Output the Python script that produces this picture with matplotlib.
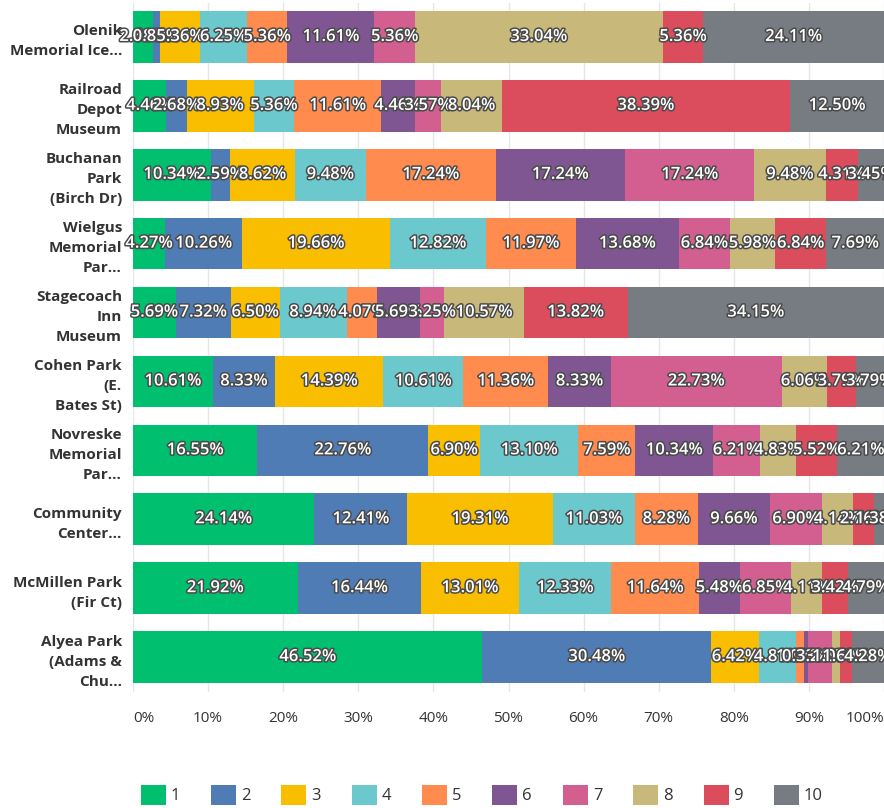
import numpy as np
import matplotlib
matplotlib.use("Agg")
import matplotlib.pyplot as plt
import matplotlib.patheffects as pe
from matplotlib.patches import Patch

plt.rcParams['font.family'] = ['Open Sans', 'DejaVu Sans']

# Datos
places = [
    "Olenik\nMemorial Ice...",
    "Railroad\nDepot\nMuseum",
    "Buchanan\nPark\n(Birch Dr)",
    "Wielgus\nMemorial\nPar...",
    "Stagecoach\nInn\nMuseum",
    "Cohen Park\n(E.\nBates St)",
    "Novreske\nMemorial\nPar...",
    "Community\nCenter...",
    "McMillen Park\n(Fir Ct)",
    "Alyea Park\n(Adams &\nChu...",
]
series = ["1", "2", "3", "4", "5", "6", "7", "8", "9", "10"]

# porcentaje por lugar, columnas 1..10
pct = np.array([
    [2.68, 0.89, 5.36, 6.25, 5.36, 11.61, 5.36, 33.04, 5.36, 24.11],
    [4.46, 2.68, 8.93, 5.36, 11.61, 4.46, 3.57, 8.04, 38.39, 12.50],
    [10.34, 2.59, 8.62, 9.48, 17.24, 17.24, 17.24, 9.48, 4.31, 3.45],
    [4.27, 10.26, 19.66, 12.82, 11.97, 13.68, 6.84, 5.98, 6.84, 7.69],
    [5.69, 7.32, 6.50, 8.94, 4.07, 5.69, 3.25, 10.57, 13.82, 34.15],
    [10.61, 8.33, 14.39, 10.61, 11.36, 8.33, 22.73, 6.06, 3.79, 3.79],
    [16.55, 22.76, 6.90, 13.10, 7.59, 10.34, 6.21, 4.83, 5.52, 6.21],
    [24.14, 12.41, 19.31, 11.03, 8.28, 9.66, 6.90, 4.14, 2.76, 1.38],
    [21.92, 16.44, 13.01, 12.33, 11.64, 5.48, 6.85, 4.11, 3.42, 4.79],
    [46.52, 30.48, 6.42, 4.81, 1.07, 0.53, 3.21, 1.07, 1.60, 4.28],
])

colors = ["#00bf6f", "#507cb6", "#f9be00", "#6bc8cd", "#ff8b4f",
          "#7f5691", "#d25f90", "#c8b97a", "#db4d5c", "#767c82"]

fig = plt.figure(figsize=(8.84, 8.08), dpi=100)
ax = fig.add_axes([133 / 884, 1 - 691.5 / 808, 751 / 884, 689 / 808])

y = np.arange(len(places))
left = np.zeros(len(places))
for j in range(len(series)):
    ax.barh(y, pct[:, j], left=left, height=0.75, color=colors[j],
            label=series[j], zorder=2)
    for i in range(len(places)):
        ax.text(left[i] + pct[i, j] / 2, y[i], f"{pct[i, j]:.2f}%",
                ha='center', va='center', color='white', fontsize=12,
                fontweight='semibold', zorder=3,
                path_effects=[pe.withStroke(linewidth=2.2, foreground='#4a4a4a')])
    left += pct[:, j]

ax.set_xlim(0, 100)
ax.set_ylim(len(places) - 0.5, -0.5)
ax.set_yticks(y)
ax.set_yticklabels(places, fontsize=11, fontweight='bold', color='#333333',
                   linespacing=1.55)
ticks = np.arange(0, 101, 10)
ax.set_xticks(ticks)
xl = ax.set_xticklabels([f"{t}%" for t in ticks], fontsize=11, color='#333333')
xl[0].set_ha('left')
xl[-1].set_ha('right')
ax.tick_params(axis='both', length=0)
ax.tick_params(axis='x', pad=14)
ax.tick_params(axis='y', pad=8)
ax.grid(axis='x', color='#e6e6e6', linewidth=1, zorder=0)
for s in ax.spines.values():
    s.set_visible(False)

handles = [Patch(facecolor=c, edgecolor='none') for c in colors]
fig.legend(handles, series, loc='center', bbox_to_anchor=(0.545, 1 - 795 / 808),
           ncol=10, frameon=False, fontsize=12, handlelength=1.5,
           handleheight=1.5, handletextpad=0.3, columnspacing=1.85,
           labelcolor='#333333')

fig.savefig("out.png", dpi=100)
